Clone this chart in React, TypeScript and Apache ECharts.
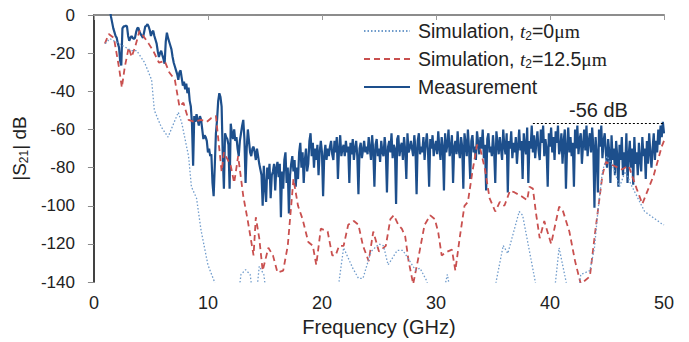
import React, { useEffect, useRef } from 'react';
import * as echarts from 'echarts';

const FONT = "'Liberation Sans', Arial, Helvetica, sans-serif";
const SERIF = "'Liberation Serif', 'DejaVu Serif', serif";

const NAME_T0 = 'Simulation, t2=0μm';
const NAME_T12 = 'Simulation, t2=12.5μm';
const NAME_MEAS = 'Measurement';

// Simulation t2 = 0 µm  [GHz, dB]  (values below -140 run off the axis)
const simT0: number[][] = [
  [1.0, -15], [1.4, -12.4], [2.2, -15], [3.3, -18.7], [3.75, -18.7], [4.45, -25], [5.06, -34],
  [5.3, -50], [5.9, -58.6], [6.5, -64], [7.4, -51], [7.7, -56.5], [8.3, -74], [8.55, -90],
  [9.0, -96], [9.4, -113], [10.0, -131], [10.55, -139.5], [11.0, -150], [12.6, -150],
  [12.9, -136], [13.3, -133.5], [13.7, -136], [14.0, -150], [14.2, -150], [14.5, -131.7],
  [14.9, -136], [15.2, -150], [21.2, -150], [21.5, -139.5], [21.9, -122], [22.7, -132.7],
  [23.2, -138], [23.6, -138], [24.3, -124], [25.0, -120], [25.4, -121], [25.8, -131],
  [26.6, -123.4], [27.1, -123.4], [27.7, -129], [28.2, -133.7], [28.6, -132.7], [29.2, -139.5],
  [29.6, -150], [30.5, -150], [31.0, -136], [31.4, -150], [35.0, -150], [35.3, -139],
  [35.9, -120.8], [36.3, -125], [37.3, -103], [37.6, -105], [38.7, -139.5], [39.0, -150],
  [40.3, -150], [40.5, -139], [40.8, -122], [41.4, -139.5], [41.7, -150], [42.4, -150],
  [42.7, -136], [43.5, -134], [43.9, -122], [44.2, -103], [44.6, -82], [45.0, -74],
  [45.5, -79], [46.1, -90], [46.6, -82], [47.2, -90], [48.3, -103], [49.8, -109.4], [50.0, -110],
];

// Simulation t2 = 12.5 µm  [GHz, dB]
const simT12: number[][] = [
  [0.96, -15], [1.3, -10], [1.75, -12], [2.2, -27.5], [2.45, -38], [2.7, -27.5], [3.05, -17],
  [3.3, -22], [3.6, -17], [4.0, -8.3], [4.45, -12], [4.8, -15], [5.2, -18.7], [5.7, -25],
  [6.2, -24], [6.6, -30], [7.1, -34], [7.5, -48], [7.85, -46], [8.3, -55], [8.8, -56],
  [9.4, -55], [9.9, -56], [10.3, -54], [10.7, -53], [11.2, -82], [11.4, -72], [12.0, -79],
  [12.3, -88], [12.65, -74], [13.1, -95], [13.5, -108], [14.0, -126], [14.2, -106],
  [14.5, -117], [14.8, -134], [15.3, -122], [15.7, -126], [16.1, -135], [16.6, -134],
  [17.0, -121], [17.5, -86], [17.9, -100], [18.3, -107], [18.8, -119], [19.2, -121],
  [19.5, -131], [19.9, -112], [20.5, -113.5], [20.9, -126], [21.2, -126], [21.5, -121],
  [21.9, -121], [22.3, -110], [22.8, -108], [23.2, -110], [23.6, -121], [24.1, -129],
  [24.5, -113.5], [25.0, -124], [25.6, -121], [26.0, -107], [26.3, -105], [26.7, -110],
  [27.0, -112], [27.3, -116], [27.6, -129], [28.0, -141], [28.4, -129], [29.0, -110],
  [29.5, -105], [29.9, -107], [30.2, -114], [30.5, -126], [31.0, -124], [31.4, -123],
  [31.7, -134], [32.1, -116], [32.5, -100], [32.8, -98], [33.2, -82], [33.6, -68],
  [33.9, -70.5], [34.3, -81], [34.7, -96], [35.2, -103], [35.6, -98], [36.0, -100],
  [36.5, -92], [36.9, -93], [37.5, -95], [38.0, -97], [38.2, -90], [38.5, -91], [38.8, -105],
  [39.1, -117], [39.5, -108], [40.1, -120], [40.8, -100.5], [41.1, -102], [41.7, -113.5],
  [42.2, -129], [42.7, -141], [43.5, -137], [44.0, -112], [44.6, -84], [44.9, -77],
  [45.6, -79], [46.3, -81], [46.9, -79], [47.6, -91], [48.1, -99], [48.5, -93], [49.1, -84],
  [49.8, -69], [50.0, -66],
];

// Measurement, sampled every 0.1 GHz starting at 1.0 GHz (dB)
const MEAS_START_GHZ = 1.0;
const MEAS_STEP_GHZ = 0.1;
const measurement: number[] = [
  8, 8, 6, 5, 3, -1, -4, -7, -9, -11,
  -12, -15, -17, -24, -26.5, -7, -6, -6, -5.5, -6,
  -11, -13.5, -12, -11, -12, -12.5, -12, -9, -7, -6.7,
  -9, -10, -11, -12, -9, -6, -5.7, -4.8, -6, -8,
  -11, -9, -8.3, -11, -13, -15, -19, -22, -20, -18.7,
  -21, -23, -25.5, -14, -9.3, -12, -14, -16, -18, -22,
  -25, -27, -29, -31, -34, -30, -29, -33, -37, -35,
  -39, -36, -41, -38, -45, -48, -57, -79, -53, -56,
  -52, -55, -58, -53, -55, -60, -65, -63, -64, -66,
  -72, -70, -74, -73, -88, -95, -79, -62, -55, -45,
  -41, -43, -48, -74, -91, -62, -64, -65, -68, -91,
  -57, -62, -65, -60, -66, -64, -70, -74, -66, -62,
  -58, -55, -65, -88, -70, -60, -66, -72, -74, -70,
  -69, -72, -76, -70, -74, -78, -81, -84, -100, -79,
  -90, -98, -80, -86, -78, -96, -84, -82, -78, -92,
  -80, -77, -85, -78, -106, -82, -91, -76, -72, -88,
  -80, -104, -84, -78, -74, -82, -76, -90, -80, -86,
  -72, -67, -80, -72, -88, -76, -70, -82, -78, -66,
  -62, -74, -67, -80, -70, -76, -68, -84, -72, -66,
  -72, -95, -74, -68, -76, -70, -74, -69, -66, -73,
  -76, -66, -72, -64, -86, -70, -63, -74, -70, -68,
  -74, -66, -72, -69, -88, -67, -73, -65, -76, -70,
  -66, -74, -94, -70, -67, -75, -71, -66, -72, -69,
  -73, -64, -70, -76, -63, -71, -90, -68, -65, -74,
  -70, -77, -66, -72, -74, -64, -71, -93, -69, -66,
  -72, -62, -75, -68, -70, -99, -65, -63, -74, -69,
  -67, -76, -64, -71, -86, -62, -72, -70, -66, -70,
  -74, -63, -70, -94, -66, -62, -73, -69, -72, -64,
  -76, -68, -62, -71, -90, -65, -70, -63, -74, -69,
  -66, -73, -61, -70, -76, -64, -69, -92, -62, -72,
  -68, -60, -74, -70, -63, -88, -69, -66, -73, -61,
  -71, -75, -64, -69, -91, -62, -67, -74, -60, -70,
  -86, -66, -63, -72, -69, -76, -61, -67, -73, -64,
  -70, -60, -75, -68, -92, -65, -62, -72, -69, -74,
  -63, -71, -88, -61, -67, -73, -64, -70, -76, -60,
  -69, -73, -62, -93, -66, -70, -61, -75, -67, -72,
  -64, -78, -69, -60, -71, -66, -86, -62, -69, -73,
  -59, -88, -66, -70, -58, -72, -63, -75, -67, -61,
  -71, -76, -60, -67, -58, -74, -65, -70, -90, -62,
  -69, -59, -72, -64, -76, -61, -67, -58, -73, -70,
  -62, -78, -66, -60, -91, -69, -59, -72, -64, -74,
  -67, -90, -60, -70, -58, -73, -65, -62, -78, -68,
  -60, -71, -58, -74, -66, -62, -72, -59, -69, -101,
  -64, -73, -93, -60, -69, -58, -75, -66, -62, -72,
  -80, -65, -72, -88, -63, -76, -70, -84, -66, -74,
  -90, -68, -76, -64, -84, -72, -80, -62, -88, -74,
  -66, -80, -70, -89, -64, -78, -72, -84, -67, -76,
  -82, -64, -74, -70, -86, -66, -78, -62, -72, -80,
  -70, -62, -76, -66, -72, -60, -68, -58, -64, -56,
  -62,
];

const REF_LEVEL_DB = -57;
const REF_FROM_GHZ = 38.5;
const REF_LABEL = '-56 dB';

const measData = measurement.map((v, i) => [
  Math.round((MEAS_START_GHZ + i * MEAS_STEP_GHZ) * 100) / 100,
  v,
]);

function legendRich(name: string): string {
  return name.replace('t2=', '{it|t}{sub|2}=').replace('μm', '{mu|μm}');
}

export default function App() {
  const ref = useRef<HTMLDivElement>(null);
  useEffect(() => {
    const chart = echarts.init(ref.current!, null, { renderer: 'svg' });
    const option: any = {
      animation: false,
      backgroundColor: '#fff',
      grid: { left: 92, right: 25, top: 15, bottom: 58 },
      legend: {
        orient: 'vertical',
        left: 358,
        top: 15,
        itemWidth: 46,
        itemHeight: 14,
        itemGap: 6,
        data: [NAME_T0, NAME_T12, NAME_MEAS],
        formatter: (n: string) => legendRich(n),
        itemStyle: { opacity: 0, borderWidth: 0 },
        textStyle: {
          fontSize: 19.5,
          fontFamily: FONT,
          color: '#222',
          lineHeight: 22,
          padding: [0, 0, 0, 3],
          rich: {
            it: { fontStyle: 'italic', fontFamily: SERIF, fontSize: 19.5, lineHeight: 22, color: '#222' },
            sub: { fontSize: 12, fontFamily: FONT, verticalAlign: 'bottom', lineHeight: 22, color: '#222' },
            mu: { fontFamily: SERIF, fontSize: 19.5, lineHeight: 22, color: '#222' },
          },
        },
      },
      xAxis: [
        {
          type: 'value', min: 0, max: 50, interval: 10, position: 'bottom',
          axisLine: { show: true, lineStyle: { color: '#333', width: 1.5 } },
          axisTick: { show: false },
          splitLine: { show: false },
          axisLabel: { fontSize: 18, color: '#222', margin: 12, fontFamily: FONT },
          name: 'Frequency (GHz)', nameLocation: 'middle', nameGap: 32,
          nameTextStyle: { fontSize: 20, color: '#222', fontFamily: FONT },
        },
        {
          type: 'value', min: 0, max: 50, interval: 10, position: 'top',
          axisLine: { show: true, lineStyle: { color: '#9a9a9a', width: 1.5 } },
          axisTick: { show: true, inside: true, length: 5, lineStyle: { color: '#9a9a9a' } },
          axisLabel: { show: false },
          splitLine: { show: false },
        },
      ],
      yAxis: [
        {
          type: 'value', min: -140, max: 0, interval: 20, position: 'left',
          axisLine: { show: true, lineStyle: { color: '#8a8a8a', width: 1.5 } },
          axisTick: { show: true, length: 6, lineStyle: { color: '#8a8a8a' } },
          splitLine: { show: false },
          axisLabel: { fontSize: 17, color: '#222', margin: 19, fontFamily: FONT },
          name: '|S{sub|21}| dB', nameLocation: 'middle', nameGap: 49,
          nameTextStyle: {
            fontSize: 19, color: '#222', fontFamily: FONT, lineHeight: 22,
            rich: { sub: { fontSize: 12, fontFamily: FONT, verticalAlign: 'bottom', lineHeight: 22, color: '#222' } },
          },
        },
        {
          type: 'value', min: -140, max: 0, interval: 20, position: 'right',
          axisLine: { show: true, lineStyle: { color: '#222', width: 1.5 } },
          axisTick: { show: false },
          axisLabel: { show: false },
          splitLine: { show: false },
        },
      ],
      series: [
        {
          name: NAME_MEAS, type: 'line', data: measData, symbol: 'none', clip: true,
          lineStyle: { color: '#1d4f8c', width: 2.2 }, itemStyle: { color: '#1d4f8c' },
          markLine: {
            silent: true, symbol: 'none',
            lineStyle: { color: '#000', type: [2, 2], width: 1 },
            label: { show: true, position: 'insideMiddleTop', formatter: REF_LABEL, fontSize: 20, color: '#222', fontFamily: FONT, distance: 4 },
            data: [[{ coord: [REF_FROM_GHZ, REF_LEVEL_DB] }, { coord: [50, REF_LEVEL_DB] }]],
          },
        },
        {
          name: NAME_T12, type: 'line', data: simT12, symbol: 'none', clip: true,
          lineStyle: { color: '#c9504f', width: 1.8, type: [6, 4] }, itemStyle: { color: '#c9504f' },
        },
        {
          name: NAME_T0, type: 'line', data: simT0, symbol: 'none', clip: true,
          lineStyle: { color: '#6f9bcb', width: 1.3, type: [1.5, 2] }, itemStyle: { color: '#6f9bcb' },
        },
      ],
    };
    chart.setOption(option);
    return () => chart.dispose();
  }, []);
  return <div ref={ref} style={{ position: 'fixed', left: 0, top: 0, width: 689, height: 342 }} />;
}
